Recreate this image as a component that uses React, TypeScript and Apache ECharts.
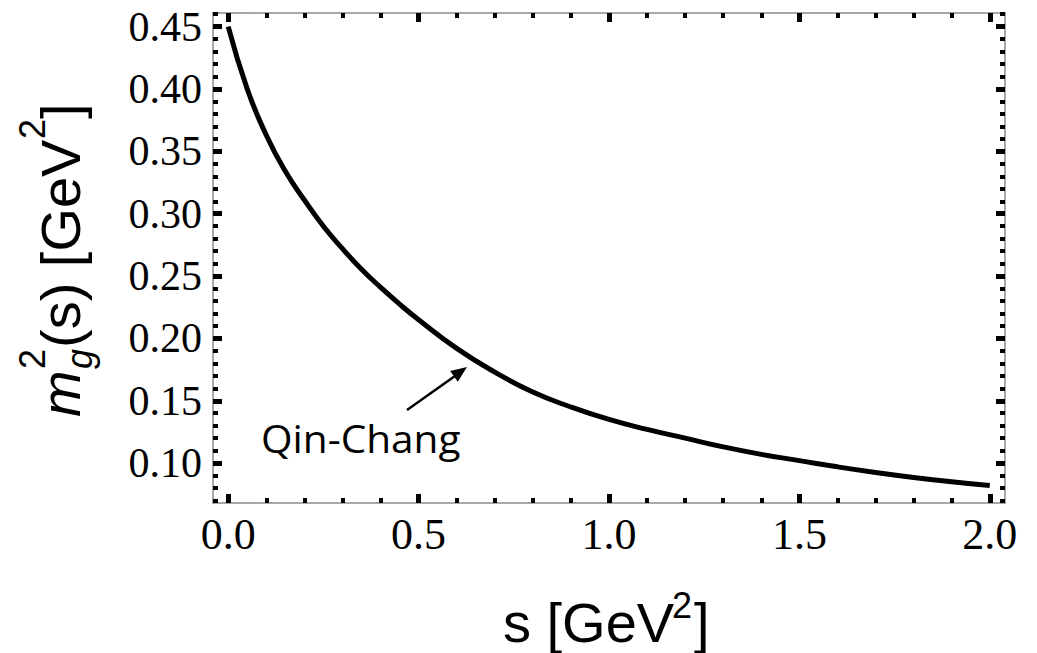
import React, { useEffect, useRef } from "react";
import * as echarts from "echarts";

// Curve: s [GeV^2] vs m_g^2(s) [GeV^2]
const sValues = [0, 0.05, 0.1, 0.15, 0.2, 0.25, 0.3, 0.35, 0.4, 0.45, 0.5, 0.6, 0.7, 0.8, 0.9, 1.0, 1.1, 1.2, 1.3, 1.4, 1.5, 1.6, 1.7, 1.8, 1.9, 2.0];
const mgValues = [0.450, 0.400, 0.363, 0.334, 0.311, 0.290, 0.272, 0.2555, 0.241, 0.2275, 0.215, 0.192, 0.173, 0.157, 0.145, 0.135, 0.127, 0.120, 0.113, 0.107, 0.102, 0.097, 0.0925, 0.0885, 0.085, 0.082];

const xMajorTicks = [0, 0.5, 1.0, 1.5, 2.0];
const xMinorTicks = [0.1, 0.2, 0.3, 0.4, 0.6, 0.7, 0.8, 0.9, 1.1, 1.2, 1.3, 1.4, 1.6, 1.7, 1.8, 1.9];
const yMajorTicks = [0.10, 0.15, 0.20, 0.25, 0.30, 0.35, 0.40, 0.45];
const yMinorTicks = [
  0.07, 0.08, 0.09, 0.11, 0.12, 0.13, 0.14, 0.16, 0.17, 0.18, 0.19, 0.21, 0.22, 0.23, 0.24,
  0.26, 0.27, 0.28, 0.29, 0.31, 0.32, 0.33, 0.34, 0.36, 0.37, 0.38, 0.39, 0.41, 0.42, 0.43, 0.44, 0.46,
];

const annotationLabel = "Qin-Chang";

const X_MIN = -0.04;
const X_MAX = 2.04;
const Y_MIN = 0.068;
const Y_MAX = 0.461;

const FRAME = "#8c8c8c";
const SERIF = "Liberation Serif";
const SANS = "Liberation Sans";

function tickAxis(kind: "x" | "y", position: string, ticks: number[], major: boolean, labels: boolean, showLine: boolean) {
  const isX = kind === "x";
  return {
    type: "value",
    min: isX ? X_MIN : Y_MIN,
    max: isX ? X_MAX : Y_MAX,
    position,
    axisLine: { show: showLine, onZero: false, lineStyle: { color: FRAME, width: 1.5 } },
    axisTick: {
      show: true,
      inside: true,
      customValues: ticks,
      length: major ? 9 : 5,
      lineStyle: { color: "#000", width: major ? 5 : 4 },
    },
    axisLabel: labels
      ? {
          show: true,
          customValues: ticks,
          formatter: (v: number) => (isX ? v.toFixed(1) : v.toFixed(2)),
          fontFamily: SERIF,
          fontWeight: "normal",
          fontSize: isX ? 44 : 42,
          color: "#000",
          margin: isX ? 9 : 11,
        }
      : { show: false },
    splitLine: { show: false },
    minorTick: { show: false },
  };
}

export default function App() {
  const ref = useRef<HTMLDivElement>(null);

  useEffect(() => {
    if (!ref.current) return;
    const chart = echarts.init(ref.current, undefined, { renderer: "svg" });

    const titleFs = 56;
    const supFs = 36;
    const mid = (baseline: number, fs: number, k = 0.35) => baseline - k * fs;

    const option = {
      animation: false,
      backgroundColor: "#fff",
      grid: { left: 213, top: 13, width: 792, height: 490, containLabel: false },
      xAxis: [
        tickAxis("x", "bottom", xMajorTicks, true, true, true),
        tickAxis("x", "bottom", xMinorTicks, false, false, false),
        tickAxis("x", "top", xMajorTicks, true, false, true),
        tickAxis("x", "top", xMinorTicks, false, false, false),
      ],
      yAxis: [
        tickAxis("y", "left", yMajorTicks, true, true, true),
        tickAxis("y", "left", yMinorTicks, false, false, false),
        tickAxis("y", "right", yMajorTicks, true, false, true),
        tickAxis("y", "right", yMinorTicks, false, false, false),
      ],
      series: [
        {
          type: "line",
          xAxisIndex: 0,
          yAxisIndex: 0,
          data: sValues.map((s, i) => [s, mgValues[i]]),
          smooth: 0.5,
          showSymbol: false,
          symbol: "none",
          lineStyle: { color: "#000", width: 5, cap: "butt" },
          z: 5,
        },
      ],
      graphic: [
        // x axis title: s [GeV^2]
        {
          type: "text",
          x: 503,
          y: mid(642, titleFs),
          style: { text: "s [GeV", fontFamily: SANS, fontSize: titleFs, fill: "#000", textAlign: "left", textVerticalAlign: "middle" },
        },
        {
          type: "text",
          x: 672,
          y: mid(618, supFs),
          style: { text: "2", fontFamily: SANS, fontSize: supFs, fill: "#000", textAlign: "left", textVerticalAlign: "middle" },
        },
        {
          type: "text",
          x: 694,
          y: mid(642, titleFs),
          style: { text: "]", fontFamily: SANS, fontSize: titleFs, fill: "#000", textAlign: "left", textVerticalAlign: "middle" },
        },
        // y axis title: m_g^2(s) [GeV^2]
        {
          type: "group",
          x: 80,
          y: 260,
          rotation: Math.PI / 2,
          children: [
            {
              type: "text",
              x: -157,
              y: mid(0, titleFs),
              style: { text: "m", fontFamily: SANS, fontStyle: "italic", fontSize: titleFs, fill: "#000", textAlign: "left", textVerticalAlign: "middle" },
            },
            {
              type: "text",
              x: -109,
              y: mid(12, supFs),
              style: { text: "g", fontFamily: SANS, fontStyle: "italic", fontSize: supFs, fill: "#000", textAlign: "left", textVerticalAlign: "middle" },
            },
            {
              type: "text",
              x: -109,
              y: mid(-35, supFs),
              style: { text: "2", fontFamily: SANS, fontSize: supFs, fill: "#000", textAlign: "left", textVerticalAlign: "middle" },
            },
            {
              type: "text",
              x: -88,
              y: mid(0, titleFs),
              style: { text: "(s) [GeV", fontFamily: SANS, fontSize: titleFs, fill: "#000", textAlign: "left", textVerticalAlign: "middle" },
            },
            {
              type: "text",
              x: 121,
              y: mid(-35, supFs),
              style: { text: "2", fontFamily: SANS, fontSize: supFs, fill: "#000", textAlign: "left", textVerticalAlign: "middle" },
            },
            {
              type: "text",
              x: 141,
              y: mid(0, titleFs),
              style: { text: "]", fontFamily: SANS, fontSize: titleFs, fill: "#000", textAlign: "left", textVerticalAlign: "middle" },
            },
          ],
        },
        // annotation
        {
          type: "text",
          x: 261,
          y: 438,
          scaleX: 1.04,
          style: { text: annotationLabel, x: 0, y: 0, fontFamily: "Open Sans", fontSize: 39, fill: "#000", textAlign: "left", textVerticalAlign: "middle" },
          z: 10,
        },
        {
          type: "line",
          shape: { x1: 407, y1: 410, x2: 455, y2: 376 },
          style: { stroke: "#000", lineWidth: 2.5 },
          z: 10,
        },
        {
          type: "polygon",
          shape: { points: [[467, 367], [457.8, 381.7], [450.2, 371.1]] },
          style: { fill: "#000" },
          z: 10,
        },
      ],
    };

    chart.setOption(option as any);
    return () => chart.dispose();
  }, []);

  return (
    <div
      ref={ref}
      style={{ position: "absolute", left: 0, top: 0, width: 1037, height: 653, background: "#fff" }}
    />
  );
}
